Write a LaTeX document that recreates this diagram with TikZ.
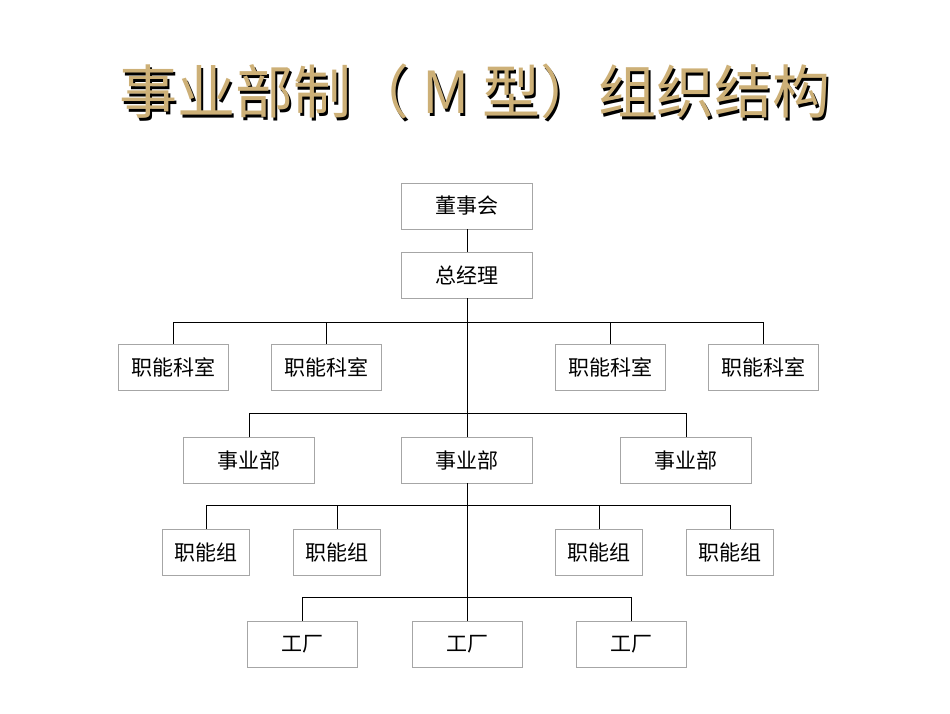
\documentclass[tikz,border=0pt]{standalone}
\usepackage{fontspec}
\setmainfont{Noto Sans CJK SC}
\newfontfamily\titlefont{Noto Sans CJK SC}
\usetikzlibrary{positioning}
\definecolor{titlegold}{HTML}{CDB077}
\tikzset{
  box/.style={draw=gray!70, fill=white, minimum height=46pt, inner sep=0pt, font=\fontsize{21}{21}\selectfont},
  wide/.style={box, minimum width=131pt},
  office/.style={box, minimum width=110pt},
  group/.style={box, minimum width=87pt},
  link/.style={black, line width=0.8pt}
}
\begin{document}
\begin{tikzpicture}[x=1pt,y=-1pt]
	\useasboundingbox (0,0) rectangle (950,713);
	% title with shadow
	\node (title) [titlegold, font=\titlefont\fontsize{58}{58}\selectfont,
	  preaction={}] at (475,93) {\makebox[0pt][l]{\kern2.5pt\raisebox{-2.5pt}{\color{black}事业部制（ M 型）组织结构}}事业部制（ M 型）组织结构};
	% top
	\node (board) [wide] at (467,206) {董事会};
	\node (gm) [wide] at (467,275) {总经理};
	% offices
	\node (o1) [office] at (173,367) {职能科室};
	\node (o2) [office] at (326,367) {职能科室};
	\node (o3) [office] at (610,367) {职能科室};
	\node (o4) [office] at (763,367) {职能科室};
	% divisions
	\node (bu1) [wide] at (249,460) {事业部};
	\node (bu2) [wide] at (467,460) {事业部};
	\node (bu3) [wide] at (686,460) {事业部};
	% groups
	\node (g1) [group] at (206,552) {职能组};
	\node (g2) [group] at (337,552) {职能组};
	\node (g3) [group] at (599,552) {职能组};
	\node (g4) [group] at (730,552) {职能组};
	% factories
	\node (f1) [office] at (302,644) {工厂};
	\node (f2) [office] at (467,644) {工厂};
	\node (f3) [office] at (631,644) {工厂};
	% connectors
	\draw [link] (board.south) -- (gm.north);
	\draw [link] (gm.south) -- (bu2.north);
	\draw [link] (bu2.south) -- (f2.north);
	\draw [link] (o1.north) -- ++(0,-21) -| (o4.north);
	\draw [link] (o2.north) -- ++(0,-21);
	\draw [link] (o3.north) -- ++(0,-21);
	\draw [link] (bu1.north) -- ++(0,-23) -| (bu3.north);
	\draw [link] (g1.north) -- ++(0,-23) -| (g4.north);
	\draw [link] (g2.north) -- ++(0,-23);
	\draw [link] (g3.north) -- ++(0,-23);
	\draw [link] (f1.north) -- ++(0,-23) -| (f3.north);
\end{tikzpicture}
\end{document}
